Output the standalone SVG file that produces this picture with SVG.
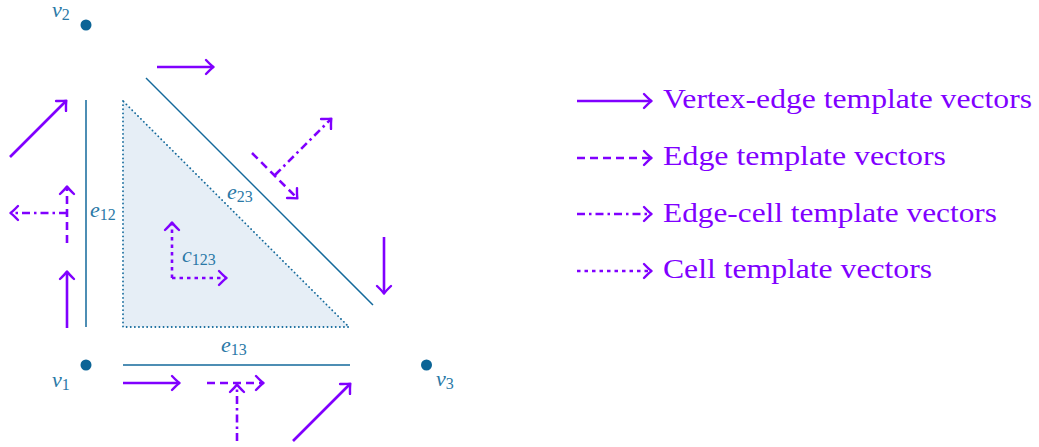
<svg xmlns="http://www.w3.org/2000/svg" width="1039" height="447" viewBox="0 0 1039 447">
<style>
.edge{stroke:#13699b;stroke-width:1.5;fill:none}
.vtx{fill:#0b6496}
.m{font-family:"Liberation Serif",serif;font-style:italic;font-size:22px;fill:#2a78a6}
.sub{font-style:normal;font-size:16px}
.v{stroke:#8000ff;stroke-width:2.6;fill:none;marker-end:url(#ah)}
.dash{stroke-dasharray:8 5}
.dashdot{stroke-dasharray:8 4 2.5 4}
.dot{stroke-dasharray:3.5 4}
.leg{font-family:"Liberation Serif",serif;font-size:27px;fill:#8000ff}
</style>
<defs>
<marker id="ah" markerUnits="userSpaceOnUse" orient="auto" refX="0" refY="0" markerWidth="20" markerHeight="20" overflow="visible">
<path d="M-7,-7 Q-2,-1.8 0.5,0 Q-2,1.8 -7,7" fill="none" stroke="#8000ff" stroke-width="2.4" stroke-linecap="round" stroke-linejoin="round"/>
</marker>
</defs>
<rect width="1039" height="447" fill="#ffffff"/>

<g id="cell-c123">
<polygon points="123,101 123,327 349,327" fill="#e6eef6" stroke="#13699b" stroke-width="1.8" stroke-linecap="round" stroke-dasharray="0.1 4"/>
<text class="m" x="182" y="262">c<tspan class="sub" dy="3">123</tspan></text>
</g>

<g id="edge-e12">
<line class="edge" x1="86" y1="100" x2="86" y2="327"/>
<text class="m" x="90" y="217">e<tspan class="sub" dy="3">12</tspan></text>
</g>
<g id="edge-e13">
<line class="edge" x1="123" y1="365" x2="350" y2="365"/>
<text class="m" x="221" y="352">e<tspan class="sub" dy="3">13</tspan></text>
</g>
<g id="edge-e23">
<line class="edge" x1="146" y1="78" x2="373" y2="305"/>
<text class="m" x="227" y="199">e<tspan class="sub" dy="3">23</tspan></text>
</g>

<g id="vertex-v1">
<circle class="vtx" cx="86" cy="365" r="5.5"/>
<text class="m" x="52" y="387">v<tspan class="sub" dy="3">1</tspan></text>
</g>
<g id="vertex-v2">
<circle class="vtx" cx="86" cy="25" r="5.5"/>
<text class="m" x="52" y="17">v<tspan class="sub" dy="3">2</tspan></text>
</g>
<g id="vertex-v3">
<circle class="vtx" cx="426.5" cy="365" r="5.5"/>
<text class="m" x="436" y="386">v<tspan class="sub" dy="3">3</tspan></text>
</g>

<g id="connectors">
<line class="v" x1="10" y1="157" x2="66" y2="101"/>
<line class="v" x1="67" y1="328" x2="67" y2="272"/>
<line class="v" x1="157" y1="67" x2="213" y2="67"/>
<line class="v" x1="384" y1="237" x2="384" y2="293"/>
<line class="v" x1="123" y1="383" x2="179" y2="383"/>
<line class="v" x1="293" y1="441" x2="350" y2="384"/>
<line class="v dash" x1="67" y1="243" x2="67" y2="187"/>
<line class="v dash" x1="252" y1="153" x2="297" y2="198"/>
<line class="v dash" x1="207" y1="383" x2="263" y2="383"/>
<line class="v dashdot" x1="67" y1="213" x2="11" y2="213"/>
<line class="v dashdot" x1="275" y1="175" x2="331" y2="119"/>
<line class="v dashdot" x1="237" y1="441" x2="237" y2="385"/>
<line class="v dot" x1="172" y1="278" x2="172" y2="223"/>
<line class="v dot" x1="172" y1="278" x2="226" y2="278"/>
</g>

<g id="legend">
<line class="v" x1="577" y1="101" x2="651" y2="101"/>
<text class="leg" x="663" y="108" textLength="369" lengthAdjust="spacingAndGlyphs">Vertex-edge template vectors</text>
<line class="v dash" x1="577" y1="158" x2="651" y2="158"/>
<text class="leg" x="663" y="165" textLength="283" lengthAdjust="spacingAndGlyphs">Edge template vectors</text>
<line class="v dashdot" x1="577" y1="214" x2="651" y2="214"/>
<text class="leg" x="663" y="222" textLength="334" lengthAdjust="spacingAndGlyphs">Edge-cell template vectors</text>
<line class="v dot" x1="577" y1="271" x2="651" y2="271"/>
<text class="leg" x="663" y="278" textLength="269" lengthAdjust="spacingAndGlyphs">Cell template vectors</text>
</g>
</svg>
